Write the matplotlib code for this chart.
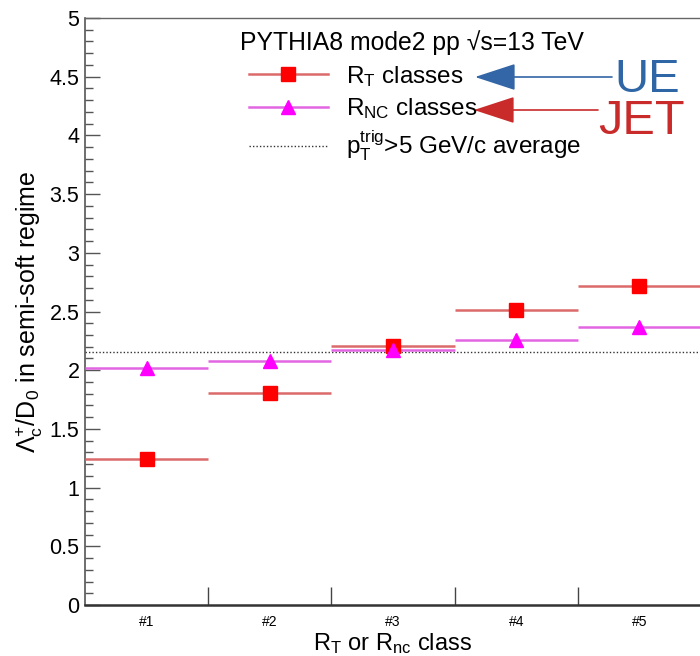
import matplotlib
matplotlib.use("Agg")
import matplotlib.pyplot as plt
from matplotlib.ticker import FixedLocator, MultipleLocator, FuncFormatter
from matplotlib.lines import Line2D

plt.rcParams['font.family'] = ['Liberation Sans', 'DejaVu Sans']
plt.rcParams['mathtext.fontset'] = 'custom'
plt.rcParams['mathtext.rm'] = 'Liberation Sans'
plt.rcParams['mathtext.it'] = 'Liberation Sans:italic'

classes = ["#1", "#2", "#3", "#4", "#5"]
rt_values = [1.24, 1.81, 2.21, 2.51, 2.72]
rnc_values = [2.02, 2.08, 2.17, 2.26, 2.37]
average_value = 2.155

W, H = 700, 656
fig = plt.figure(figsize=(7.0, 6.56), dpi=100)
ax = fig.add_axes([85 / W, 51 / H, 616 / W, 587 / H])

x = list(range(1, len(classes) + 1))
red_line = '#dc6a6a'
mag_line = '#e266e2'
ax.errorbar(x, rt_values, xerr=0.5, fmt='s', color=red_line, ecolor=red_line,
            elinewidth=1.8, markersize=9.5, markerfacecolor='#ff0000',
            markeredgecolor='#ff0000', capsize=0, zorder=3)
ax.errorbar(x, rnc_values, xerr=0.5, fmt='^', color=mag_line, ecolor=mag_line,
            elinewidth=1.8, markersize=10, markerfacecolor='#ff00ff',
            markeredgecolor='#ff00ff', capsize=0, zorder=3)
ax.axhline(average_value, color='#333333', linestyle=(0, (1, 1.5)), linewidth=1.0, zorder=2)

ax.set_xlim(0.5, 5.5)
ax.set_ylim(0, 5)
ax.spines['right'].set_visible(False)
ax.spines['top'].set_color('#666666')
ax.spines['top'].set_linewidth(1.0)
ax.spines['left'].set_color('#555555')
ax.spines['bottom'].set_color('#333333')
ax.spines['left'].set_linewidth(1.2)
ax.spines['bottom'].set_linewidth(1.8)

ax.xaxis.set_major_locator(FixedLocator([1.5, 2.5, 3.5, 4.5]))
ax.xaxis.set_major_formatter(FuncFormatter(lambda v, p: ''))
ax.xaxis.set_minor_locator(FixedLocator(x))
ax.set_xticklabels(classes, minor=True)
ax.tick_params(axis='x', which='major', direction='in', length=13, width=1.0, color='#444444')
ax.tick_params(axis='x', which='minor', length=0, labelsize=10, pad=7)

ax.yaxis.set_major_locator(MultipleLocator(0.5))
ax.yaxis.set_minor_locator(MultipleLocator(0.1))
ax.yaxis.set_major_formatter(FuncFormatter(lambda v, p: f"{v:g}"))
ax.tick_params(axis='y', which='major', direction='in', length=11, width=1.0,
               color='#555555', labelsize=15.5, pad=4)
ax.tick_params(axis='y', which='minor', direction='in', length=5.5, width=1.0, color='#555555')

ax.set_xlabel(r'R$_\mathregular{T}$ or R$_\mathregular{nc}$ class', fontsize=17, labelpad=2)
ax.set_ylabel(r'$\Lambda_\mathregular{c}^\mathregular{+}$/D$_\mathregular{0}$ in semi-soft regime',
              fontsize=18, labelpad=3)

def fp(px, py):
    return (px / W, (H - py) / H)

fig.text(*fp(240, 50), 'PYTHIA8 mode2 pp √s=13 TeV', fontsize=17.8, ha='left', va='baseline')

handles = [
    Line2D([], [], color=red_line, lw=1.8, marker='s', markersize=9.5,
           markerfacecolor='#ff0000', markeredgecolor='#ff0000'),
    Line2D([], [], color=mag_line, lw=1.8, marker='^', markersize=10,
           markerfacecolor='#ff00ff', markeredgecolor='#ff00ff'),
    Line2D([], [], color='#333333', lw=1.0, linestyle=(0, (1, 1.5))),
]
labels = [r'R$_\mathregular{T}$ classes', r'R$_\mathregular{NC}$ classes',
          r'p$_\mathregular{T}^\mathregular{trig}$>5 GeV/c average']
leg = ax.legend(handles, labels, loc='upper left',
                bbox_to_anchor=fp(249, 64), bbox_transform=fig.transFigure,
                frameon=False, fontsize=17.5, handlelength=3.25, handletextpad=0.75,
                labelspacing=0.3, borderpad=0, borderaxespad=0)

ax.annotate('', xy=fp(475, 77), xytext=fp(612, 77), xycoords='figure fraction',
            textcoords='figure fraction',
            arrowprops=dict(arrowstyle='-|>,head_length=2.6,head_width=0.85',
                            color='#3366a6', lw=1.2, shrinkA=0, shrinkB=0, mutation_scale=10))
ax.annotate('', xy=fp(474, 110), xytext=fp(598, 110), xycoords='figure fraction',
            textcoords='figure fraction',
            arrowprops=dict(arrowstyle='-|>,head_length=2.6,head_width=0.85',
                            color='#c92a2a', lw=1.2, shrinkA=0, shrinkB=0, mutation_scale=10))
fig.text(*fp(614, 92), 'UE', color='#2f66a6', fontsize=34, ha='left', va='baseline')
fig.text(*fp(598, 134), 'JET', color='#c92a2a', fontsize=35, ha='left', va='baseline')

fig.savefig('out.png', dpi=100)
